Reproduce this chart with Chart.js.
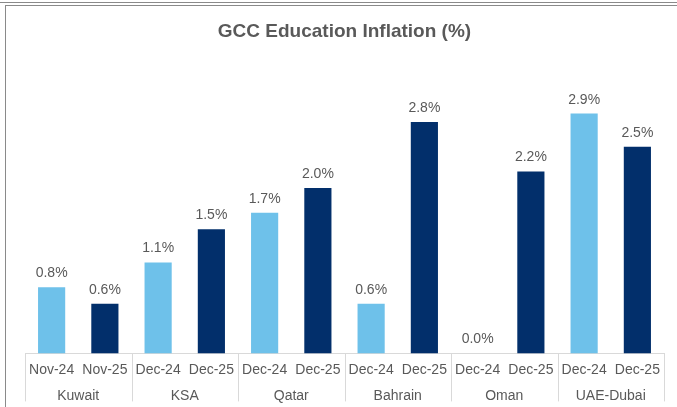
<!DOCTYPE html>
<html>
<head>
<meta charset="utf-8">
<script src="https://cdn.jsdelivr.net/npm/chart.js@4/dist/chart.umd.min.js"></script>
<style>
  html, body { margin: 0; padding: 0; background: #fff; }
  #wrap { position: relative; width: 677px; height: 407px; overflow: hidden; }
  #wrap canvas { position: absolute; left: 0; top: 0; }
  .rule-top { position: absolute; left: 0; right: 0; top: 2px; height: 1px; background: #8a8a8a; }
  .frame { position: absolute; left: 5px; top: 5px; right: -2px; bottom: -2px;
           border-top: 1px solid #8a8a8a; border-left: 1px solid #8a8a8a; }
</style>
</head>
<body>
<div id="wrap">
  <canvas id="chart-edu" width="677" height="407"></canvas>
  <div class="rule-top"></div>
  <div class="frame"></div>
</div>
<script>
const periods   = ['Nov-24', 'Nov-25', 'Dec-24', 'Dec-25', 'Dec-24', 'Dec-25',
                   'Dec-24', 'Dec-25', 'Dec-24', 'Dec-25', 'Dec-24', 'Dec-25']
const countries = ['Kuwait', 'KSA', 'Qatar', 'Bahrain', 'Oman', 'UAE-Dubai']
const inflation = [0.8, 0.6, 1.1, 1.5, 1.7, 2.0, 0.6, 2.8, 0.0, 2.2, 2.9, 2.5]

const LIGHT = '#6ec1ea'
const DARK  = '#022f6b'
const TEXT  = '#595959'
const RULE  = '#d9d9d9'
const FONT  = "Arial, 'Liberation Sans', sans-serif"

// value labels above each bar
const valueLabels = {
  id: 'valueLabels',
  afterDatasetsDraw(chart) {
    const { ctx } = chart
    const meta = chart.getDatasetMeta(0)
    ctx.save()
    ctx.font = '14px ' + FONT
    ctx.fillStyle = TEXT
    ctx.textAlign = 'center'
    ctx.textBaseline = 'alphabetic'
    meta.data.forEach((bar, i) => {
      ctx.fillText(inflation[i].toFixed(1) + '%', bar.x, bar.y - 10)
    })
    ctx.restore()
  },
}

// vertical dividers between country groups, under the axis line
const groupDividers = {
  id: 'groupDividers',
  afterDraw(chart) {
    const { ctx } = chart
    const x = chart.scales.x
    const step = (x.right - x.left) / periods.length
    const top = chart.chartArea.bottom
    const bottom = top + 48
    ctx.save()
    ctx.strokeStyle = RULE
    ctx.lineWidth = 1
    for (let g = 0; g <= countries.length; g++) {
      const px = Math.round(x.left + g * 2 * step) + 0.5
      ctx.beginPath()
      ctx.moveTo(px, top)
      ctx.lineTo(px, bottom)
      ctx.stroke()
    }
    ctx.restore()
  },
}

new Chart(document.getElementById('chart-edu'), {
  type: 'bar',
  data: {
    labels: periods,
    datasets: [{
      data: inflation,
      backgroundColor: inflation.map((_, i) => i % 2 === 0 ? LIGHT : DARK),
      categoryPercentage: 1,
      barPercentage: 0.51,
    }],
  },
  options: {
    responsive: false,
    animation: false,
    layout: { padding: { left: 25, right: 13, top: 0, bottom: 0 } },
    plugins: {
      legend: { display: false },
      tooltip: { enabled: false },
      title: {
        display: true,
        text: 'GCC Education Inflation (%)',
        color: TEXT,
        font: { family: FONT, size: 19, weight: 'bold' },
        padding: { top: 20, bottom: 46 },
      },
    },
    scales: {
      x: {
        position: 'bottom',
        grid: { display: false, drawTicks: false },
        border: { display: true, color: RULE },
        ticks: { color: TEXT, font: { family: FONT, size: 14 }, padding: 8,
                 maxRotation: 0, autoSkip: false },
      },
      x2: {
        type: 'category',
        position: 'bottom',
        labels: countries,
        offset: true,
        grid: { display: false, drawTicks: false },
        border: { display: false },
        ticks: { color: TEXT, font: { family: FONT, size: 14 }, padding: 2,
                 maxRotation: 0, autoSkip: false },
      },
      y: {
        display: false,
        min: 0,
        max: 3.2,
      },
    },
  },
  plugins: [valueLabels, groupDividers],
})
</script>
</body>
</html>
